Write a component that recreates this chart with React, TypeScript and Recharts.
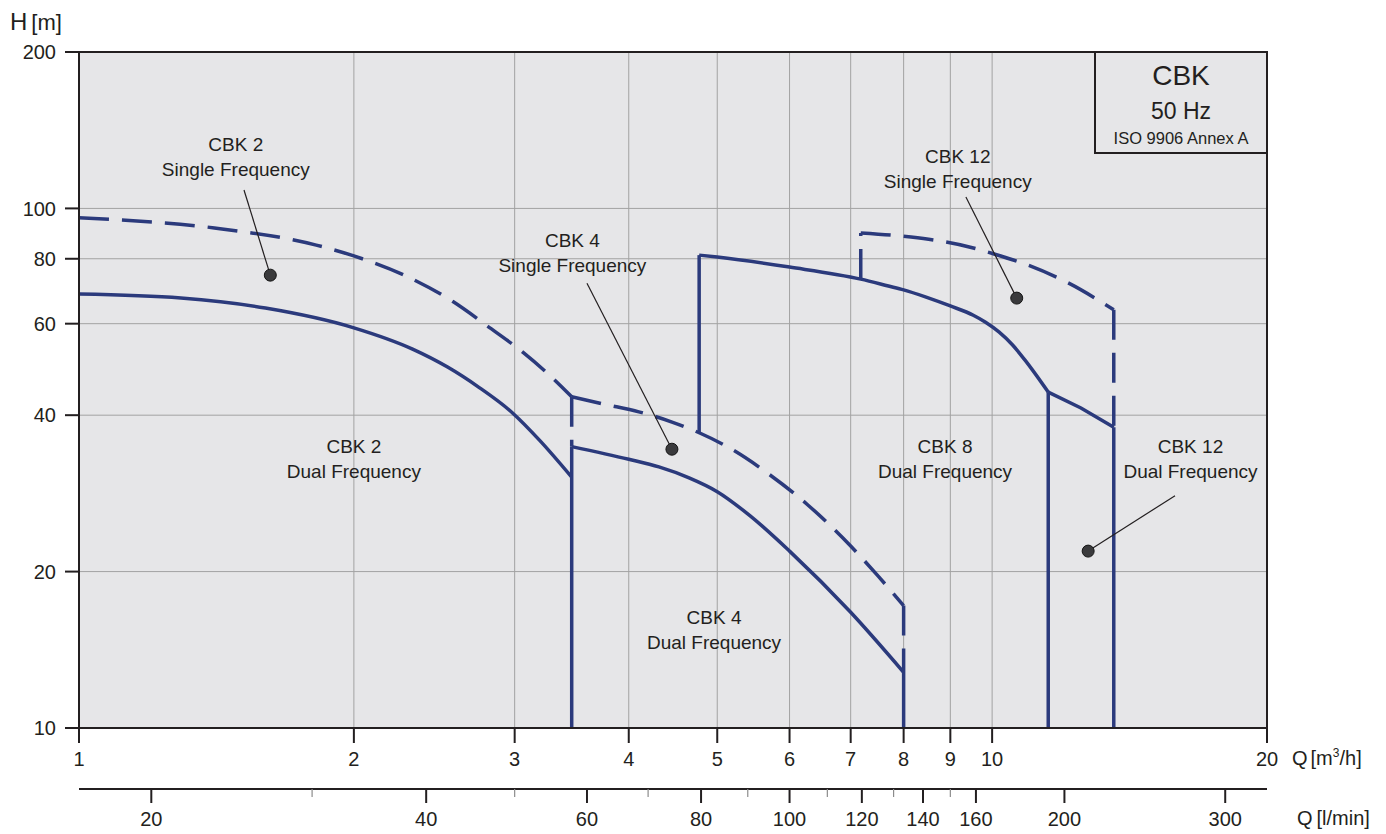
import React from 'react';
import {
  ComposedChart,
  Line,
  XAxis,
  YAxis,
  CartesianGrid,
  ReferenceLine,
  ReferenceDot,
  ReferenceArea,
} from 'recharts';

// ---------- axis ticks ----------
const qTicks = [1, 2, 3, 4, 5, 6, 7, 8, 9, 10, 20];
const hTicks = [10, 20, 40, 60, 80, 100, 200];
const lminTicks = [20, 30, 40, 50, 60, 70, 80, 90, 100, 110, 120, 130, 140, 150, 160, 200, 300];
const lminLabels = [20, 40, 60, 80, 100, 120, 140, 160, 200, 300];

// ---------- curves: Q [m3/h], H [m] ----------
// CBK 2 single frequency (dashed)
const cbk2SingleQ = [1, 1.407, 1.819, 2, 2.27, 2.57, 2.8, 3.062, 3.257, 3.464];
const cbk2SingleH = [95.9, 91.7, 85.0, 81.0, 74.4, 66.1, 59.4, 52.9, 48.2, 43.4];
// CBK 2 dual frequency (solid)
const cbk2DualQ = [1, 1.293, 1.6, 2, 2.319, 2.533, 2.739, 2.984, 3.199, 3.464];
const cbk2DualH = [68.4, 67.2, 64.3, 58.9, 53.6, 49.5, 45.3, 40.4, 35.7, 30.4];
// CBK 4 single frequency (dashed)
const cbk4SingleQ = [3.464, 3.76, 4.103, 4.461, 4.777, 5.156, 5.696, 6.279, 7, 7.503, 8];
const cbk4SingleH = [43.4, 42.0, 40.6, 38.8, 37.0, 34.6, 30.8, 26.9, 22.4, 19.6, 17.2];
// CBK 4 dual frequency (solid)
const cbk4DualQ = [3.464, 4, 4.316, 4.657, 5, 5.433, 6, 7, 8];
const cbk4DualH = [34.8, 32.9, 31.8, 30.3, 28.5, 25.6, 21.9, 16.7, 12.8];
// CBK 8 dual frequency (solid)
const cbk8DualQ = [4.777, 5, 6, 7.18, 7.699, 8, 8.466, 9, 9.536, 9.836, 10.18, 10.53, 10.86, 11.52];
const cbk8DualH = [81.3, 80.6, 77.1, 73.1, 70.9, 69.7, 67.5, 64.9, 62.3, 60.4, 57.8, 54.6, 51.1, 44.3];
// CBK 12 single frequency (dashed)
const cbk12SingleQ = [7.18, 8.15, 8.79, 9.44, 10.05, 10.94, 12.13, 13.59];
const cbk12SingleH = [89.7, 88.1, 86.5, 84.3, 81.7, 77.8, 71.8, 63.8];
// CBK 12 dual frequency (solid)
const cbk12DualQ = [11.52, 12.51, 13.59];
const cbk12DualH = [44.3, 41.3, 37.9];

// vertical boundaries
const vertQ = [3.464, 8, 4.777, 11.52, 13.59, 3.464, 8, 7.18, 13.59];
const vertFrom = [34.8, 13.4, 37.0, 44.3, 37.9, 43.4, 17.2, 73.1, 63.8];
const vertTo = [10, 10, 81.3, 10, 10, 34.8, 13.4, 89.7, 37.9];
const vertDashed = [false, false, false, false, false, true, true, true, true];

// ---------- annotations ----------
const labelTitle = ['CBK 2', 'CBK 4', 'CBK 12', 'CBK 2', 'CBK 4', 'CBK 8', 'CBK 12'];
const labelSub = [
  'Single Frequency',
  'Single Frequency',
  'Single Frequency',
  'Dual Frequency',
  'Dual Frequency',
  'Dual Frequency',
  'Dual Frequency',
];
const labelQ = [1.485, 3.47, 9.17, 2, 4.96, 8.88, 16.49];
const labelH = [133, 86.9, 126.1, 34.9, 16.35, 34.9, 34.9];

const leaderFromQ = [1.516, 3.6, 9.36, 15.86];
const leaderFromH = [108.5, 71.8, 105.2, 28.0];
const dotQ = [1.62, 4.46, 10.64, 12.74];
const dotH = [74.4, 34.4, 67.2, 21.9];

// ---------- styles ----------
const NAVY = '#2b3a7c';
const INK = '#231f20';
const BG = '#e6e6e8';
const GRID = '#a2a2a2';
const FONT = '"Liberation Sans", Arial, Helvetica, sans-serif';

const toData = (qs: number[], hs: number[]) => qs.map((q, i) => ({ q, h: hs[i] }));

const LminTick = (props: any) => {
  const { x, y, payload } = props;
  const v = payload.value;
  const major = lminLabels.includes(v);
  return (
    <g>
      <line
        x1={x}
        x2={x}
        y1={y}
        y2={y + (major ? 14 : 8)}
        stroke={major ? INK : '#8c8c8c'}
        strokeWidth={major ? 2 : 1.2}
      />
      {major && (
        <text x={x} y={y + 23} dy="0.71em" textAnchor="middle" fontSize={20} fill={INK}>
          {v}
        </text>
      )}
    </g>
  );
};

const curveProps = {
  xAxisId: 'a',
  yAxisId: 'h',
  dataKey: 'h',
  stroke: NAVY,
  strokeWidth: 3.5,
  dot: false,
  activeDot: false,
  isAnimationActive: false,
  legendType: 'none' as const,
};
const DASH = '30 13';

export default function App() {
  const curves = [
    { q: cbk2SingleQ, h: cbk2SingleH, dashed: true, type: 'monotone' },
    { q: cbk2DualQ, h: cbk2DualH, dashed: false, type: 'monotone' },
    { q: cbk4SingleQ, h: cbk4SingleH, dashed: true, type: 'monotone' },
    { q: cbk4DualQ, h: cbk4DualH, dashed: false, type: 'monotone' },
    { q: cbk8DualQ, h: cbk8DualH, dashed: false, type: 'monotone' },
    { q: cbk12SingleQ, h: cbk12SingleH, dashed: true, type: 'monotone' },
    { q: cbk12DualQ, h: cbk12DualH, dashed: false, type: 'linear' },
  ];

  return (
    <div
      style={{
        position: 'fixed',
        left: 0,
        top: 0,
        width: 1386,
        height: 834,
        fontFamily: FONT,
        background: '#ffffff',
      }}
    >
      <ComposedChart width={1386} height={834} margin={{ top: 52, right: 119, bottom: 8, left: 0 }}>
        <CartesianGrid xAxisId="a" yAxisId="h" fill={BG} stroke={GRID} strokeWidth={1} />
        <XAxis
          xAxisId="a"
          dataKey="q"
          type="number"
          scale="log"
          domain={[1, 20]}
          allowDataOverflow
          ticks={qTicks}
          interval={0}
          height={61}
          tickSize={15}
          tickMargin={9}
          axisLine={{ stroke: INK, strokeWidth: 2 }}
          tickLine={{ stroke: INK, strokeWidth: 2 }}
          tick={{ fill: INK, fontSize: 20 }}
        />
        <XAxis
          xAxisId="b"
          dataKey="q"
          type="number"
          scale="log"
          domain={[1000 / 60, 20000 / 60]}
          allowDataOverflow
          ticks={lminTicks}
          interval={0}
          height={37}
          tickSize={0}
          tickMargin={0}
          axisLine={{ stroke: INK, strokeWidth: 2 }}
          tickLine={false}
          tick={(p: any) => <LminTick {...p} />}
        />
        <YAxis
          yAxisId="h"
          type="number"
          scale="log"
          domain={[10, 200]}
          allowDataOverflow
          ticks={hTicks}
          interval={0}
          width={79}
          tickSize={14}
          tickMargin={9}
          axisLine={{ stroke: INK, strokeWidth: 2 }}
          tickLine={{ stroke: INK, strokeWidth: 2 }}
          tick={{ fill: INK, fontSize: 20 }}
        />
        <ReferenceArea
          xAxisId="a"
          yAxisId="h"
          x1={1}
          x2={20}
          y1={10}
          y2={200}
          fill="none"
          fillOpacity={0}
          stroke={INK}
          strokeWidth={2}
          ifOverflow="visible"
        />

        {curves.map((c, i) => (
          <Line
            key={'c' + i}
            {...curveProps}
            data={toData(c.q, c.h)}
            type={c.type as any}
            strokeDasharray={c.dashed ? DASH : undefined}
          />
        ))}
        {vertQ.map((q, i) => (
          <Line
            key={'v' + i}
            {...curveProps}
            data={[
              { q, h: vertFrom[i] },
              { q, h: vertTo[i] },
            ]}
            type="linear"
            strokeDasharray={vertDashed[i] ? DASH : undefined}
          />
        ))}

        {dotQ.map((q, i) => (
          <ReferenceLine
            key={'l' + i}
            xAxisId="a"
            yAxisId="h"
            segment={[
              { x: leaderFromQ[i], y: leaderFromH[i] },
              { x: q, y: dotH[i] },
            ]}
            stroke={INK}
            strokeWidth={1.2}
            ifOverflow="visible"
          />
        ))}
        {dotQ.map((q, i) => (
          <ReferenceDot
            key={'d' + i}
            xAxisId="a"
            yAxisId="h"
            x={q}
            y={dotH[i]}
            r={6}
            fill="#3a3a3c"
            stroke="#151515"
            strokeWidth={1}
            ifOverflow="visible"
          />
        ))}
        {labelQ.map((q, i) => (
          <ReferenceDot
            key={'t' + i}
            xAxisId="a"
            yAxisId="h"
            x={q}
            y={labelH[i]}
            r={0}
            ifOverflow="visible"
            shape={(p: any) => (
              <g>
                <text x={p.cx} y={p.cy} dy="0.355em" textAnchor="middle" fontSize={19} fill={INK}>
                  {labelTitle[i]}
                </text>
                <text x={p.cx} y={p.cy + 25} dy="0.355em" textAnchor="middle" fontSize={19} fill={INK}>
                  {labelSub[i]}
                </text>
              </g>
            )}
          />
        ))}
      </ComposedChart>

      <svg
        width={1386}
        height={834}
        style={{ position: 'absolute', left: 0, top: 0, pointerEvents: 'none' }}
      >
        <text x={10} y={30} fontSize={24} fill={INK}>
          H<tspan dx={4} fontSize={22}>[m]</tspan>
        </text>
        <rect x={1095} y={52} width={172} height={101} fill={BG} stroke={INK} strokeWidth={2} />
        <text x={1181} y={85} fontSize={28} textAnchor="middle" fill={INK}>
          CBK
        </text>
        <text x={1181} y={119} fontSize={23} textAnchor="middle" fill={INK}>
          50 Hz
        </text>
        <text x={1181} y={144} fontSize={16.5} textAnchor="middle" fill={INK}>
          ISO 9906 Annex A
        </text>
        <text x={1292} y={765} fontSize={20} fill={INK}>
          Q<tspan dx={3}>[m</tspan>
          <tspan fontSize={12} dy={-8}>3</tspan>
          <tspan dy={8}>/h]</tspan>
        </text>
        <text x={1297} y={825} fontSize={20} fill={INK}>
          Q<tspan dx={4}>[l/min]</tspan>
        </text>
      </svg>
    </div>
  );
}
